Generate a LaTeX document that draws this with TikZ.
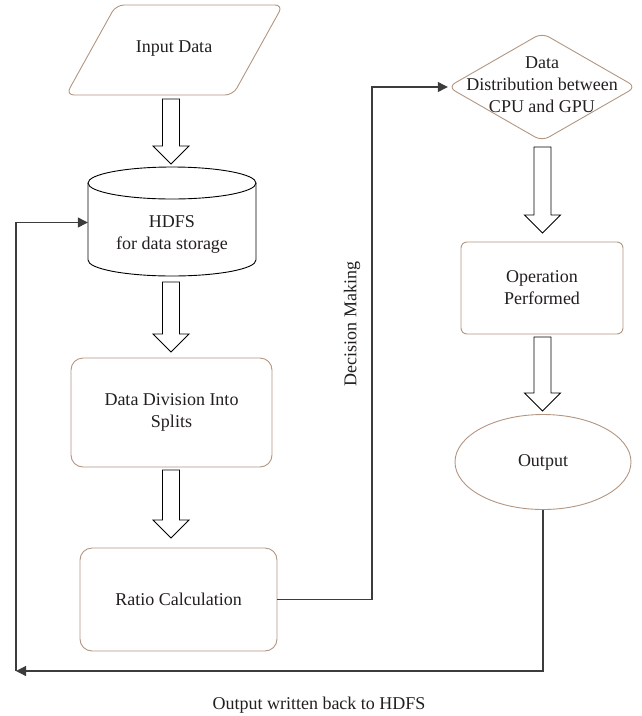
\documentclass[tikz,border=0pt]{standalone}
\usepackage{fontspec}
\setmainfont{Liberation Serif}
\usetikzlibrary{arrows.meta,shapes.geometric}
\definecolor{brownline}{RGB}{178,150,130}
\definecolor{txt}{RGB}{35,31,32}
\definecolor{connc}{RGB}{60,60,60}
\newcommand\blockarr[3]{%
  \draw[hollowarr] ({#1-8.5},{#2}) -- ({#1+8.5},{#2}) -- ({#1+8.5},{#3-18}) -- ({#1+18},{#3-18})
    -- ({#1},{#3}) -- ({#1-18},{#3-18}) -- ({#1-8.5},{#3-18}) -- cycle;}
\begin{document}
\begin{tikzpicture}[x=1pt,y=-1pt,
  every node/.style={text=txt,font=\fontsize{18}{22}\selectfont,align=center,inner sep=0pt},
  boxbrown/.style={draw=brownline,line width=0.9pt,fill=white},
  roundbox/.style={boxbrown,rectangle,rounded corners=12pt},
  hollowarr/.style={draw=black,line width=0.9pt,fill=white,line join=miter},
  conn/.style={draw=connc,line width=1.2pt},
  tip/.style={-{Triangle[length=10pt,width=10pt]}}]
\useasboundingbox (0,0) rectangle (641,716);
% Input Data parallelogram
\draw[boxbrown,rounded corners=8pt] (66,95) -- (233,95) -- (283,5) -- (116,5) -- cycle;
\node (input) at (174,49) {Input Data};
% HDFS cylinder
\draw[line width=0.9pt,fill=white] (88,183) -- (88,260) arc[start angle=180,end angle=0,x radius=84,y radius=16] -- (256,183);
\draw[line width=0.9pt,fill=white] (172,183) ellipse[x radius=84,y radius=16];
\node[minimum width=168pt,minimum height=77pt] (hdfsbody) at (172,222.5) {};
\node (hdfs) at (172,234.5) {HDFS\\for data storage};
% Data division
\node[roundbox,minimum width=201pt,minimum height=109pt] (split) at (171.5,412.5) {Data Division Into\\Splits};
% Ratio calculation
\node[roundbox,minimum width=197pt,minimum height=103pt] (ratio) at (178.5,599.5) {Ratio Calculation};
% Diamond
\draw[boxbrown,rounded corners=8pt] (448,87) -- (542,33) -- (636,87) -- (542,141) -- cycle;
\node[minimum width=188pt,minimum height=108pt] (distbody) at (542,87) {};
\node (dist) at (542,85) {Data\\Distribution between\\CPU and GPU};
% Operation performed
\node[boxbrown,rectangle,rounded corners=6pt,minimum width=162pt,minimum height=92pt] (oper) at (542,288) {Operation\\Performed};
% Output
\node[boxbrown,ellipse,minimum width=176pt,minimum height=95pt] (output) at (543,462) {Output};
% Block arrows
\blockarr{171}{99}{164}
\blockarr{171}{282}{352}
\blockarr{171}{470}{538}
\blockarr{542.5}{147}{233}
\blockarr{542.5}{337}{411}
% Connectors
\coordinate (turn) at (372,599.5);
\draw[conn,tip] (ratio.east) -- (turn) |- (distbody.west);
\coordinate (corner) at (16,671);
\draw[conn,tip] (output.south) |- (corner);
\draw[conn,tip] (corner) |- (hdfsbody.west);
% Labels
\node[rotate=90] (decision) at (352,324) {Decision Making};
\node (back) at (319,705) {Output written back to HDFS};
\end{tikzpicture}
\end{document}
